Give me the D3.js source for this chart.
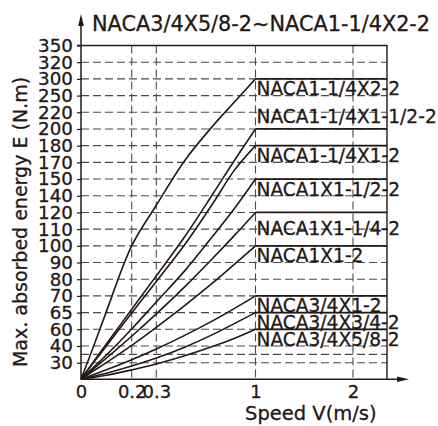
<!DOCTYPE html>
<html>
<head>
<meta charset="utf-8">
<script src="https://d3js.org/d3.v7.min.js"></script>
<style>
    body {
        margin: 0;
        background-color: white;
    }

    svg text {
        font-family: 'DejaVu Sans', sans-serif;
        fill: #231815;
        stroke: #231815;
        stroke-width: 0.3px;
    }
</style>
</head>
<body>
<svg id="chart" width="438" height="426"></svg>
<script>
    const speeds = [0, 0.05, 0.1, 0.2, 0.3, 0.5, 0.7, 0.85, 1];
    const models = ['NACA1-1/4X2-2', 'NACA1-1/4X1-1/2-2', 'NACA1-1/4X1-2', 'NACA1X1-1/2-2',
        'NACA1X1-1/4-2', 'NACA1X1-2', 'NACA3/4X1-2', 'NACA3/4X3/4-2', 'NACA3/4X5/8-2'];
    // max absorbed energy (N.m) at each speed
    const e300 = [0, 40, 65.3, 100, 128.6, 171, 203.9, 238, 300];
    const e200 = [0, 30.7, 42.4, 66, 82, 105.4, 141.2, 171, 200];
    const e180 = [0, 30.2, 40, 64.9, 78.7, 100.6, 131, 160.4, 180];
    const e150 = [0, 22.2, 34.6, 60.1, 68.2, 85, 106, 124.4, 150];
    const e120 = [0, 19.2, 32.7, 51.7, 64.6, 75.4, 92.7, 106.1, 120];
    const e100 = [0, 15.4, 30, 40.8, 60.6, 67.1, 77.9, 88.9, 100];
    const e70 = [0, 8.7, 17.2, 31.8, 38.2, 52.7, 62.6, 66.2, 70];
    const e65 = [0, 5.4, 11, 23.9, 32.8, 39.3, 53.9, 61.7, 65];
    const e60 = [0, 3.4, 7.2, 17, 27.6, 34.1, 39.8, 49, 60];
    const energies = [e300, e200, e180, e150, e120, e100, e70, e65, e60];

    const yTicks = [30, 40, 60, 65, 70, 80, 90, 100, 110, 120, 140, 150, 170, 180, 200, 220, 250, 300, 320, 350];
    const yExtra = [35];
    const xTicks = [0, 0.2, 0.3, 1, 2];
    const xMax = 2.35;
    const title = 'NACA3/4X5/8-2~NACA1-1/4X2-2';

    const ink = '#231815';
    const font = "'DejaVu Sans', sans-serif";
    const svg = d3.select('#chart');

    // the chart's axes are not linear: both are built piece by piece
    const x = d3.scaleLinear()
        .domain([0, 0.2, 0.3, 1, 2, xMax])
        .range([81, 131.7, 156.3, 255.5, 353, 387]);

    const yTop = 45.5, y30 = 362.7, y0 = 379.3;
    const step = (y30 - yTop) / (yTicks.length - 1);
    const yPos = new Map(yTicks.map((t, i) => [t, y30 - i * step]));
    yPos.set(0, y0);
    yExtra.forEach(v => yPos.set(v, (yPos.get(30) + yPos.get(40)) / 2));
    const yDom = Array.from(yPos.keys()).sort((a, b) => a - b);
    const y = d3.scaleLinear().domain(yDom).range(yDom.map(d => yPos.get(d)));

    // grid
    const grid = svg.append('g')
        .attr('stroke', '#4a4a4a')
        .attr('stroke-width', 1.1)
        .attr('stroke-dasharray', '8,4');
    grid.selectAll('.h')
        .data(yTicks.filter(d => d < 350).concat(yExtra))
        .join('line')
        .attr('x1', x(0)).attr('x2', x(xMax))
        .attr('y1', d => y(d)).attr('y2', d => y(d));
    grid.selectAll('.v')
        .data(xTicks.filter(d => d > 0))
        .join('line')
        .attr('x1', d => x(d)).attr('x2', d => x(d))
        .attr('y1', y(350)).attr('y2', y(0));

    // frame (top and right)
    svg.append('path')
        .attr('d', `M${x(0) - 4},${y(350)}H${x(xMax)}V${y(0)}`)
        .attr('fill', 'none').attr('stroke', ink).attr('stroke-width', 1.4);

    // y axis
    const yAxis = svg.append('g')
        .attr('transform', `translate(${x(0)},0)`)
        .call(d3.axisLeft(y).tickValues(yTicks).tickSize(4).tickPadding(4).tickFormat(d => String(d)));
    yAxis.select('.domain').remove();
    yAxis.selectAll('line').attr('stroke', ink).attr('stroke-width', 1.2);
    yAxis.selectAll('text').attr('font-size', 18.3).style('font-family', font).attr('fill', ink);

    // x axis
    const xAxis = svg.append('g')
        .attr('transform', `translate(0,${y(0)})`)
        .call(d3.axisBottom(x).tickValues(xTicks).tickSize(0).tickPadding(6).tickFormat(d => String(d)));
    xAxis.select('.domain').remove();
    xAxis.selectAll('text').attr('font-size', 18).style('font-family', font).attr('fill', ink);

    // axis lines with arrows
    svg.append('line')
        .attr('x1', x(0)).attr('x2', x(0)).attr('y1', y(0)).attr('y2', 18)
        .attr('stroke', ink).attr('stroke-width', 1.5);
    svg.append('path')
        .attr('d', `M${x(0)},14L${x(0) - 2.8},26L${x(0) + 2.8},26Z`).attr('fill', ink);
    svg.append('line')
        .attr('x1', x(0)).attr('x2', 404).attr('y1', y(0)).attr('y2', y(0))
        .attr('stroke', ink).attr('stroke-width', 1.5);
    svg.append('path')
        .attr('d', `M409,${y(0)}L397,${y(0) - 2.8}L397,${y(0) + 2.8}Z`).attr('fill', ink);

    // curves
    const line = d3.line()
        .x(d => x(d[0]))
        .y(d => y(d[1]))
        .curve(d3.curveCatmullRom.alpha(0.5));

    const series = models.map((m, i) => ({
        name: m,
        pts: speeds.map((s, j) => [s, energies[i][j]]),
        max: energies[i][energies[i].length - 1]
    }));

    svg.append('g').selectAll('path')
        .data(series)
        .join('path')
        .attr('d', d => line(d.pts))
        .attr('fill', 'none')
        .attr('stroke', ink)
        .attr('stroke-width', 1.6);

    svg.append('g').selectAll('line')
        .data(series)
        .join('line')
        .attr('x1', x(1)).attr('x2', x(xMax))
        .attr('y1', d => y(d.max)).attr('y2', d => y(d.max))
        .attr('stroke', ink)
        .attr('stroke-width', 1.8);

    // model labels, sitting under their line (two exceptions)
    const labelDy = { 'NACA1-1/4X1-1/2-2': -5.5, 'NACA1X1-1/4-2': 22.5 };
    svg.append('g').selectAll('text')
        .data(series)
        .join('text')
        .attr('x', x(1) + 1)
        .attr('y', d => y(d.max) + (labelDy[d.name] !== undefined ? labelDy[d.name] : 16.5))
        .attr('font-size', 18.6)
        .text(d => d.name);

    // titles
    svg.append('text')
        .attr('x', 92).attr('y', 31)
        .attr('font-size', 20.8)
        .text(title);

    svg.append('text')
        .attr('x', 245).attr('y', 420)
        .attr('font-size', 19.5)
        .text('Speed V(m/s)');

    svg.append('text')
        .attr('transform', 'translate(27,222) rotate(-90)')
        .attr('text-anchor', 'middle')
        .attr('font-size', 19)
        .text('Max. absorbed energy E (N.m)');
</script>
</body>
</html>
